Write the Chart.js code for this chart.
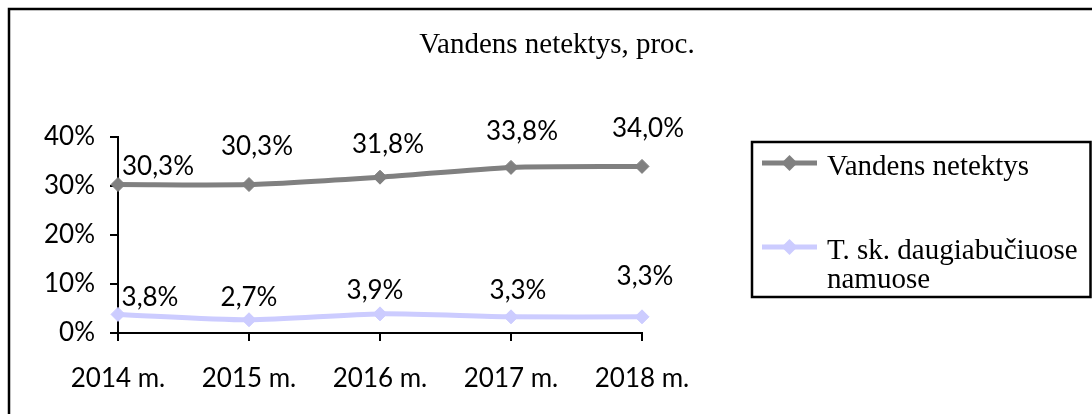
<!DOCTYPE html>
<html>
<head>
<meta charset="utf-8">
<script src="https://cdn.jsdelivr.net/npm/chart.js@4.4.1/dist/chart.umd.min.js"></script>
<style>
  html, body { margin: 0; padding: 0; background: #fff; }
  #wrap { width: 1092px; height: 414px; }
</style>
</head>
<body>
<div id="wrap"><canvas id="c" width="1092" height="414"></canvas></div>
<script>
const chartTitle = 'Vandens netektys, proc.';
const categories = ['2014 m.', '2015 m.', '2016 m.', '2017 m.', '2018 m.'];
const seriesNames = ['Vandens netektys', 'T. sk. daugiabučiuose namuose'];
const waterLoss = [30.3, 30.3, 31.8, 33.8, 34.0];
const apartmentLoss = [3.8, 2.7, 3.9, 3.3, 3.3];
const yTickValues = [0, 10, 20, 30, 40];

const seriesColors = ['#808080', '#CCCCFF'];
const tickFont = { family: 'Lato', size: 26 };
const serifFont = '29px "Liberation Serif", "Times New Roman", serif';

function fmt(v) { return v.toFixed(1).replace('.', ',') + '%'; }

const decorPlugin = {
  id: 'decor',
  beforeDraw(chart) {
    const ctx = chart.ctx;
    ctx.save();
    ctx.fillStyle = '#fff';
    ctx.fillRect(0, 0, chart.width, chart.height);
    ctx.strokeStyle = '#000';
    ctx.lineWidth = 2.5;
    ctx.strokeRect(9, 9, 2000, 2000);
    ctx.fillStyle = '#000';
    ctx.font = serifFont;
    ctx.textAlign = 'center';
    ctx.textBaseline = 'alphabetic';
    ctx.fillText(chartTitle, 557, 53);
    ctx.restore();
  },
  afterDraw(chart, args, opts) {
    const ctx = chart.ctx;
    ctx.save();
    ctx.font = tickFont.size + 'px ' + tickFont.family;
    ctx.fillStyle = '#000';
    ctx.textAlign = 'center';
    ctx.textBaseline = 'middle';
    chart.data.datasets.forEach((ds, di) => {
      const meta = chart.getDatasetMeta(di);
      meta.data.forEach((pt, i) => {
        const off = opts.labelOffsets[di][i];
        ctx.fillText(fmt(ds.data[i]), pt.x + off[0], pt.y + off[1]);
      });
    });
    const L = opts.legend;
    ctx.strokeStyle = '#000';
    ctx.lineWidth = 2.5;
    ctx.strokeRect(L.x, L.y, L.w, L.h);
    ctx.font = serifFont;
    ctx.textAlign = 'left';
    ctx.textBaseline = 'alphabetic';
    chart.data.datasets.forEach((ds, di) => {
      const cy = L.itemY[di];
      ctx.strokeStyle = ds.borderColor;
      ctx.lineWidth = 5;
      ctx.beginPath();
      ctx.moveTo(L.lineX0, cy);
      ctx.lineTo(L.lineX1, cy);
      ctx.stroke();
      const mx = (L.lineX0 + L.lineX1) / 2;
      ctx.fillStyle = ds.borderColor;
      ctx.beginPath();
      ctx.moveTo(mx, cy - 8);
      ctx.lineTo(mx + 8, cy);
      ctx.lineTo(mx, cy + 8);
      ctx.lineTo(mx - 8, cy);
      ctx.closePath();
      ctx.fill();
      ctx.fillStyle = '#000';
      const words = ds.label.split(' ');
      const lines = [];
      let cur = '';
      words.forEach(w => {
        const test = cur ? cur + ' ' + w : w;
        if (ctx.measureText(test).width > L.textMax && cur) { lines.push(cur); cur = w; }
        else cur = test;
      });
      if (cur) lines.push(cur);
      lines.forEach((ln, k) => ctx.fillText(ln, L.textX, cy + 12 + k * 29));
    });
    ctx.restore();
  }
};

new Chart(document.getElementById('c'), {
  type: 'line',
  data: {
    labels: categories,
    datasets: [
      { label: seriesNames[0], data: waterLoss, borderColor: seriesColors[0], backgroundColor: seriesColors[0],
        borderWidth: 5, pointStyle: 'rectRot', pointRadius: 7, pointBorderWidth: 1, pointBorderColor: seriesColors[0],
        pointBackgroundColor: seriesColors[0], tension: 0.25, clip: false },
      { label: seriesNames[1], data: apartmentLoss, borderColor: seriesColors[1], backgroundColor: seriesColors[1],
        borderWidth: 5, pointStyle: 'rectRot', pointRadius: 7, pointBorderWidth: 1, pointBorderColor: seriesColors[1],
        pointBackgroundColor: seriesColors[1], tension: 0.25, clip: false }
    ]
  },
  options: {
    responsive: false,
    animation: false,
    events: [],
    layout: { padding: { left: 0, top: 137, right: 450, bottom: 0 } },
    plugins: {
      legend: { display: false },
      title: { display: false },
      tooltip: { enabled: false },
      decor: {
        labelOffsets: [
          [[40, -18], [8, -38], [8, -33], [11, -36], [6, -38]],
          [[32, -17], [0, -22], [-5, -23], [7, -26], [3, -40]]
        ],
        legend: { x: 752, y: 142, w: 338.5, h: 155, lineX0: 762, lineX1: 817, textX: 827, textMax: 258, itemY: [163, 247] }
      }
    },
    scales: {
      x: {
        type: 'category',
        offset: false,
        afterFit(s) { s.height = 81; },
        border: { display: true, color: '#000', width: 2 },
        grid: { display: true, drawOnChartArea: false, drawTicks: true, tickLength: 8, color: '#000', lineWidth: 2 },
        ticks: { color: '#000', font: tickFont, padding: 22, maxRotation: 0, autoSkip: false }
      },
      y: {
        min: 0, max: 40,
        afterFit(s) { s.width = 118; },
        afterBuildTicks(s) { s.ticks = yTickValues.map(v => ({ value: v })); },
        border: { display: true, color: '#000', width: 2 },
        grid: { display: true, drawOnChartArea: false, drawTicks: true, tickLength: 8, color: '#000', lineWidth: 2 },
        ticks: { color: '#000', font: tickFont, padding: 15, callback: v => v + '%' }
      }
    }
  },
  plugins: [decorPlugin]
});
</script>
</body>
</html>
